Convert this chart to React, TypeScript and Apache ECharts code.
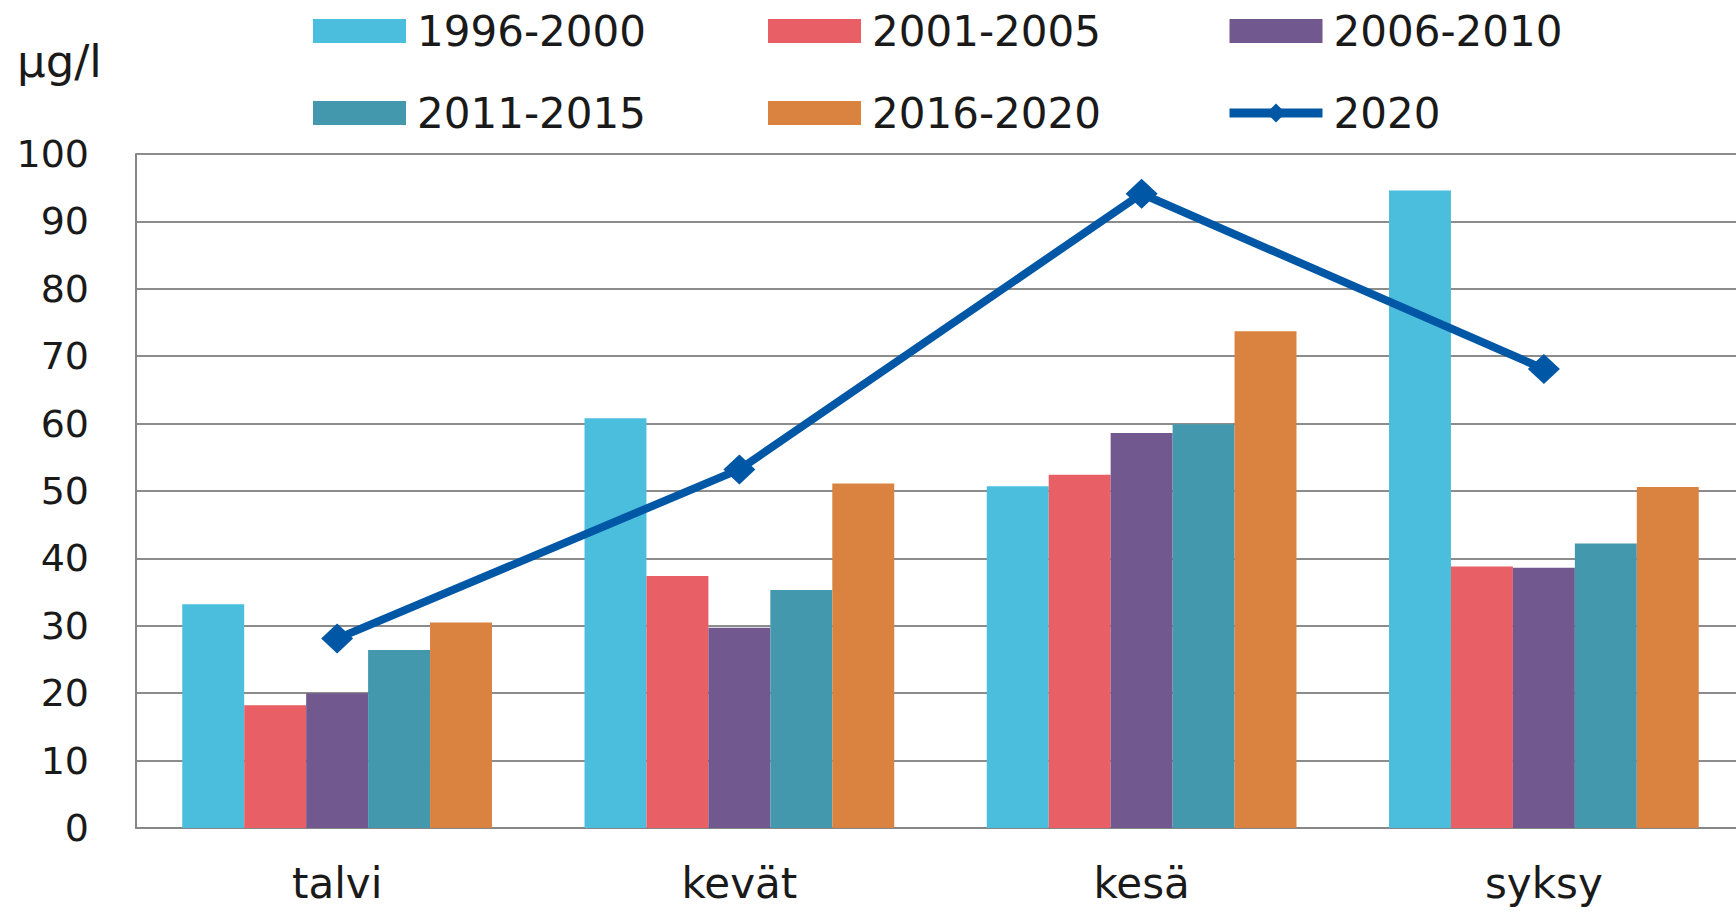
import React, { useEffect, useRef } from "react";
import * as echarts from "echarts";

const categories = ["talvi", "kevät", "kesä", "syksy"];
const periods = ["1996-2000", "2001-2005", "2006-2010", "2011-2015", "2016-2020"];
const v1996_2000 = [33.2, 60.8, 50.7, 94.6];
const v2001_2005 = [18.2, 37.4, 52.4, 38.8];
const v2006_2010 = [20.0, 29.7, 58.6, 38.6];
const v2011_2015 = [26.4, 35.3, 59.9, 42.2];
const v2016_2020 = [30.5, 51.1, 73.7, 50.6];
const lineName = "2020";
const v2020 = [28.1, 53.2, 94.1, 68.1];
const barValues = [v1996_2000, v2001_2005, v2006_2010, v2011_2015, v2016_2020];
const barColors = ["#4BBEDE", "#E85F66", "#71588F", "#4398AE", "#DA8340"];
const lineColor = "#0057A5";
const unitLabel = "µg/l";

const FONT = "DejaVu Sans";

export default function App() {
  const ref = useRef<HTMLDivElement>(null);
  useEffect(() => {
    if (!ref.current) return;
    const chart = echarts.init(ref.current, null, { renderer: "svg" });
    const legendCommon = {
      orient: "vertical" as const,
      itemWidth: 93,
      itemHeight: 24,
      itemGap: 38,
      padding: 0,
      selectedMode: false,
      textStyle: {
        fontFamily: FONT,
        fontSize: 42,
        color: "#1a1a1a",
        lineHeight: 44,
        padding: [0, 0, 0, 6],
      },
    };
    const barItem = (name: string) => ({ name, icon: "rect" });
    const lineItem = {
      name: lineName,
      lineStyle: { width: 9, color: lineColor },
      itemStyle: { color: lineColor },
    };
    chart.setOption({
      animation: false,
      backgroundColor: "#ffffff",
      textStyle: { fontFamily: FONT },
      legend: [
        { ...legendCommon, left: 313, top: 9, data: [barItem(periods[0]), barItem(periods[3])] },
        { ...legendCommon, left: 768, top: 9, data: [barItem(periods[1]), barItem(periods[4])] },
        { ...legendCommon, left: 1225, top: 9, data: [barItem(periods[2]), lineItem] },
      ],
      graphic: [
        {
          type: "text",
          left: 17,
          top: 39,
          style: { text: unitLabel, fontFamily: FONT, fontSize: 45, fill: "#1a1a1a" },
        },
      ],
      grid: {
        left: 136,
        top: 154,
        bottom: 88,
        width: 1609,
        containLabel: false,
        outerBoundsMode: "none",
      },
      xAxis: {
        type: "category",
        data: categories,
        axisTick: { show: false },
        axisLine: { lineStyle: { color: "#868686", width: 2 } },
        axisLabel: { fontFamily: FONT, fontSize: 42, color: "#1a1a1a", margin: 34 },
      },
      yAxis: {
        type: "value",
        min: 0,
        max: 100,
        interval: 10,
        axisLine: { show: true, lineStyle: { color: "#868686", width: 2 } },
        axisTick: { show: false },
        splitLine: { lineStyle: { color: "#8c8c8c", width: 2 } },
        axisLabel: { fontFamily: FONT, fontSize: 38, color: "#1a1a1a", margin: 47 },
      },
      series: [
        ...periods.map((p, i) => ({
          name: p,
          type: "bar",
          data: barValues[i],
          barGap: "0%",
          barCategoryGap: "23%",
          itemStyle: { color: barColors[i] },
        })),
        {
          name: lineName,
          type: "line",
          data: v2020,
          z: 10,
          symbol: "diamond",
          symbolSize: [32, 30],
          itemStyle: { color: lineColor },
          lineStyle: { color: lineColor, width: 8 },
        },
      ],
    });
    return () => chart.dispose();
  }, []);
  return (
    <div
      ref={ref}
      style={{ position: "fixed", left: 0, top: 0, width: 1736, height: 916 }}
    />
  );
}
